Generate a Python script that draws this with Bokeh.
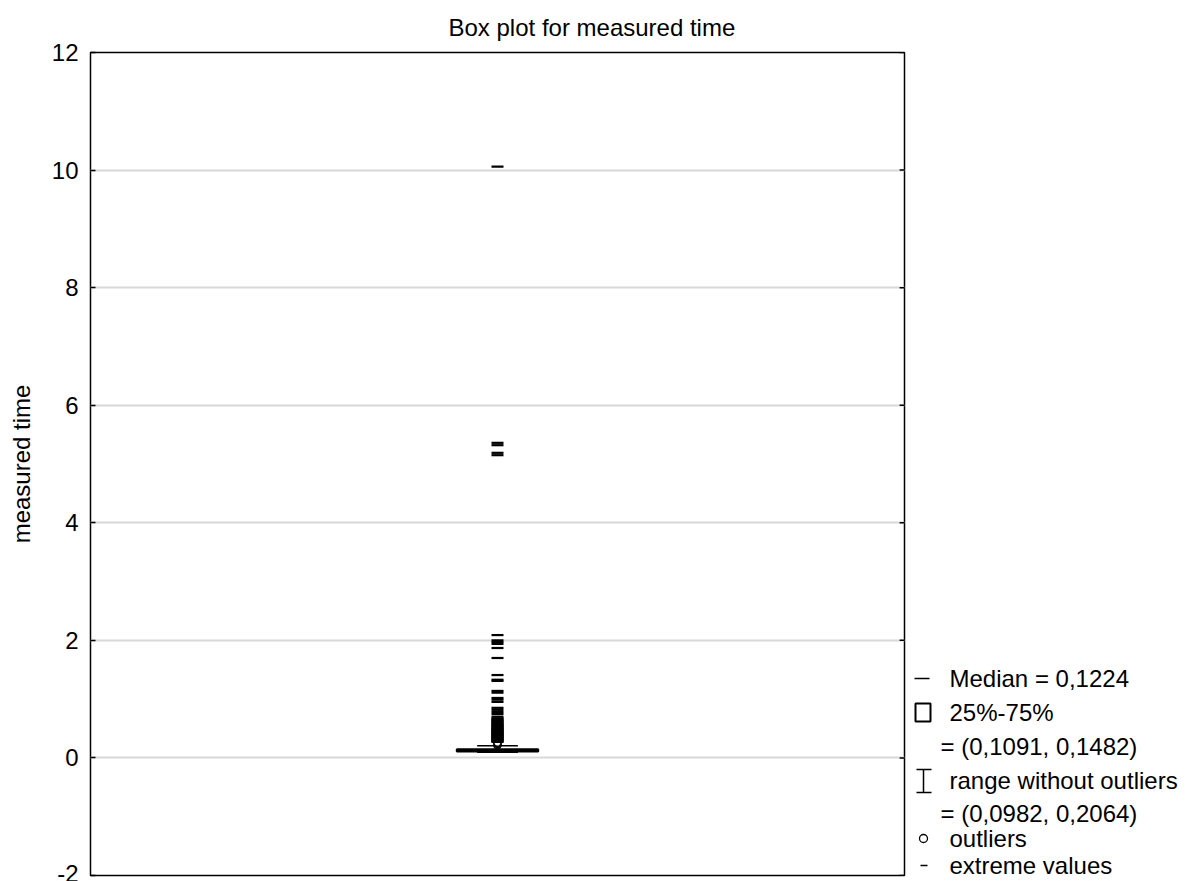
from bokeh.plotting import figure
from bokeh.models import Range1d, FixedTicker
from bokeh.layouts import row
from bokeh.embed import file_html
from bokeh.resources import INLINE
from bokeh.core.properties import value

# ---- data ----
title_text = "Box plot for measured time"
y_label = "measured time"
y_ticks = [-2, 0, 2, 4, 6, 8, 10, 12]
y_tick_labels = {-2: "-2", 0: "0", 2: "2", 4: "4", 6: "6", 8: "8", 10: "10", 12: "12"}
median = 0.1224
q1, q3 = 0.1091, 0.1482
whisk_lo, whisk_hi = 0.0982, 0.2064
outliers = [0.211, 0.222, 0.236, 0.249, 0.261]
extremes = [0.272, 0.281, 0.293, 0.302, 0.309, 0.318, 0.327, 0.335, 0.344, 0.352,
            0.361, 0.373, 0.382, 0.391, 0.398, 0.407, 0.418, 0.426, 0.435, 0.447,
            0.455, 0.463, 0.474, 0.482, 0.493, 0.505, 0.514, 0.523, 0.536, 0.547,
            0.558, 0.567, 0.579, 0.594, 0.608, 0.621, 0.633, 0.648, 0.66, 0.675,
            0.702, 0.748, 0.781, 0.818, 0.852, 0.953, 0.991, 1.02, 1.11, 1.14, 1.31,
            1.33, 1.41, 1.70, 1.87, 1.94, 1.97, 2.00, 2.09, 5.15, 5.19, 5.32,
            5.36, 10.06]
legend_lines = ["Median = 0,1224", "25%-75%", "= (0,1091, 0,1482)",
                "range without outliers", "= (0,0982, 0,2064)", "outliers",
                "extreme values"]

FONT = value("Liberation Sans")
FS = "24px"

# ---- main figure ----
p = figure(width=906, height=881, output_backend="svg", toolbar_location=None,
           x_range=Range1d(-1, 1), y_range=Range1d(-2, 12),
           min_border_left=90, min_border_right=2, min_border_top=52,
           min_border_bottom=6, x_axis_location=None, y_axis_location="left")
p.outline_line_color = "black"
p.outline_line_width = 1.5
p.background_fill_color = "white"
p.border_fill_color = "white"

p.title.text = title_text
p.title.text_font = "Liberation Sans"
p.title.text_font_size = FS
p.title.text_font_style = "normal"
p.title.text_color = "black"
p.title.align = "left"
p.title.offset = 358
p.title.standoff = 23

ax = p.yaxis[0]
ax.ticker = FixedTicker(ticks=y_ticks)
ax.major_label_overrides = y_tick_labels
ax.axis_label = y_label
ax.axis_label_text_font = "Liberation Sans"
ax.axis_label_text_font_size = FS
ax.axis_label_text_font_style = "normal"
ax.axis_label_text_color = "black"
ax.axis_label_standoff = 14
ax.major_label_text_font = "Liberation Sans"
ax.major_label_text_font_size = FS
ax.major_label_text_color = "black"
ax.major_label_standoff = 12
ax.major_tick_in = 5
ax.major_tick_out = 0
ax.minor_tick_line_color = None
ax.axis_line_color = None
ax.major_tick_line_color = "black"
ax.major_tick_line_width = 1.5

# inward ticks on the right frame edge
p.segment(x0=[0.988] * len(y_ticks), y0=y_ticks, x1=[1.0] * len(y_ticks), y1=y_ticks,
          line_color="black", line_width=1.5)

p.xgrid.grid_line_color = None
p.ygrid.ticker = FixedTicker(ticks=y_ticks)
p.ygrid.grid_line_color = "#d8d8d8"
p.ygrid.grid_line_width = 2

xc = 0.0
# whiskers
p.segment(x0=[xc, xc], y0=[whisk_lo, q3], x1=[xc, xc], y1=[q1, whisk_hi],
          line_color="black", line_width=1.5)
p.segment(x0=[xc - 0.05, xc - 0.05], y0=[whisk_lo, whisk_hi],
          x1=[xc + 0.05, xc + 0.05], y1=[whisk_lo, whisk_hi],
          line_color="black", line_width=1.5)
# box
p.quad(left=[xc - 0.1], right=[xc + 0.1], bottom=[q1], top=[q3],
       fill_color="white", line_color="black", line_width=2)
p.segment(x0=[xc - 0.1], y0=[median], x1=[xc + 0.1], y1=[median],
          line_color="black", line_width=2)
# outliers & extremes
p.scatter(x=[xc] * len(outliers), y=outliers, marker="circle", size=7,
          fill_color="white", line_color="black", line_width=1.2)
p.scatter(x=[xc] * len(extremes), y=extremes, marker="dash", size=12,
          line_color="black", line_width=2.2)

# ---- legend figure (pixel coordinates; frame aligned with main frame 52..875) ----
lg = figure(width=286, height=881, output_backend="svg", toolbar_location=None,
            x_range=Range1d(906, 1192), y_range=Range1d(875, 52),
            min_border=0, x_axis_location=None, y_axis_location=None)
lg.outline_line_color = None
lg.grid.grid_line_color = None

text_x = [949, 949, 940, 949, 940, 949, 949]
text_y = [678, 712, 746, 780, 813, 838, 865]
lg.text(x=text_x, y=text_y, text=legend_lines, text_font=FONT,
        text_font_size=FS, text_baseline="middle", text_align="left",
        text_color="black")
# median symbol
lg.segment(x0=[914], y0=[678], x1=[929], y1=[678], line_color="black", line_width=1.5)
# box symbol
lg.quad(left=[915], right=[930], top=[703], bottom=[721], fill_color=None,
        line_color="black", line_width=2)
# range symbol
lg.segment(x0=[923, 916, 916], y0=[769, 769, 792], x1=[923, 931, 931], y1=[792, 769, 792],
           line_color="black", line_width=1.5)
# outlier symbol
lg.scatter(x=[923], y=[838], marker="circle", size=8, fill_color="white",
           line_color="black", line_width=1.3)
# extreme symbol
lg.segment(x0=[920], y0=[865], x1=[927], y1=[865], line_color="black", line_width=1.5)

layout = row(p, lg, spacing=0)
open("out.html", "w").write(file_html(layout, INLINE))
